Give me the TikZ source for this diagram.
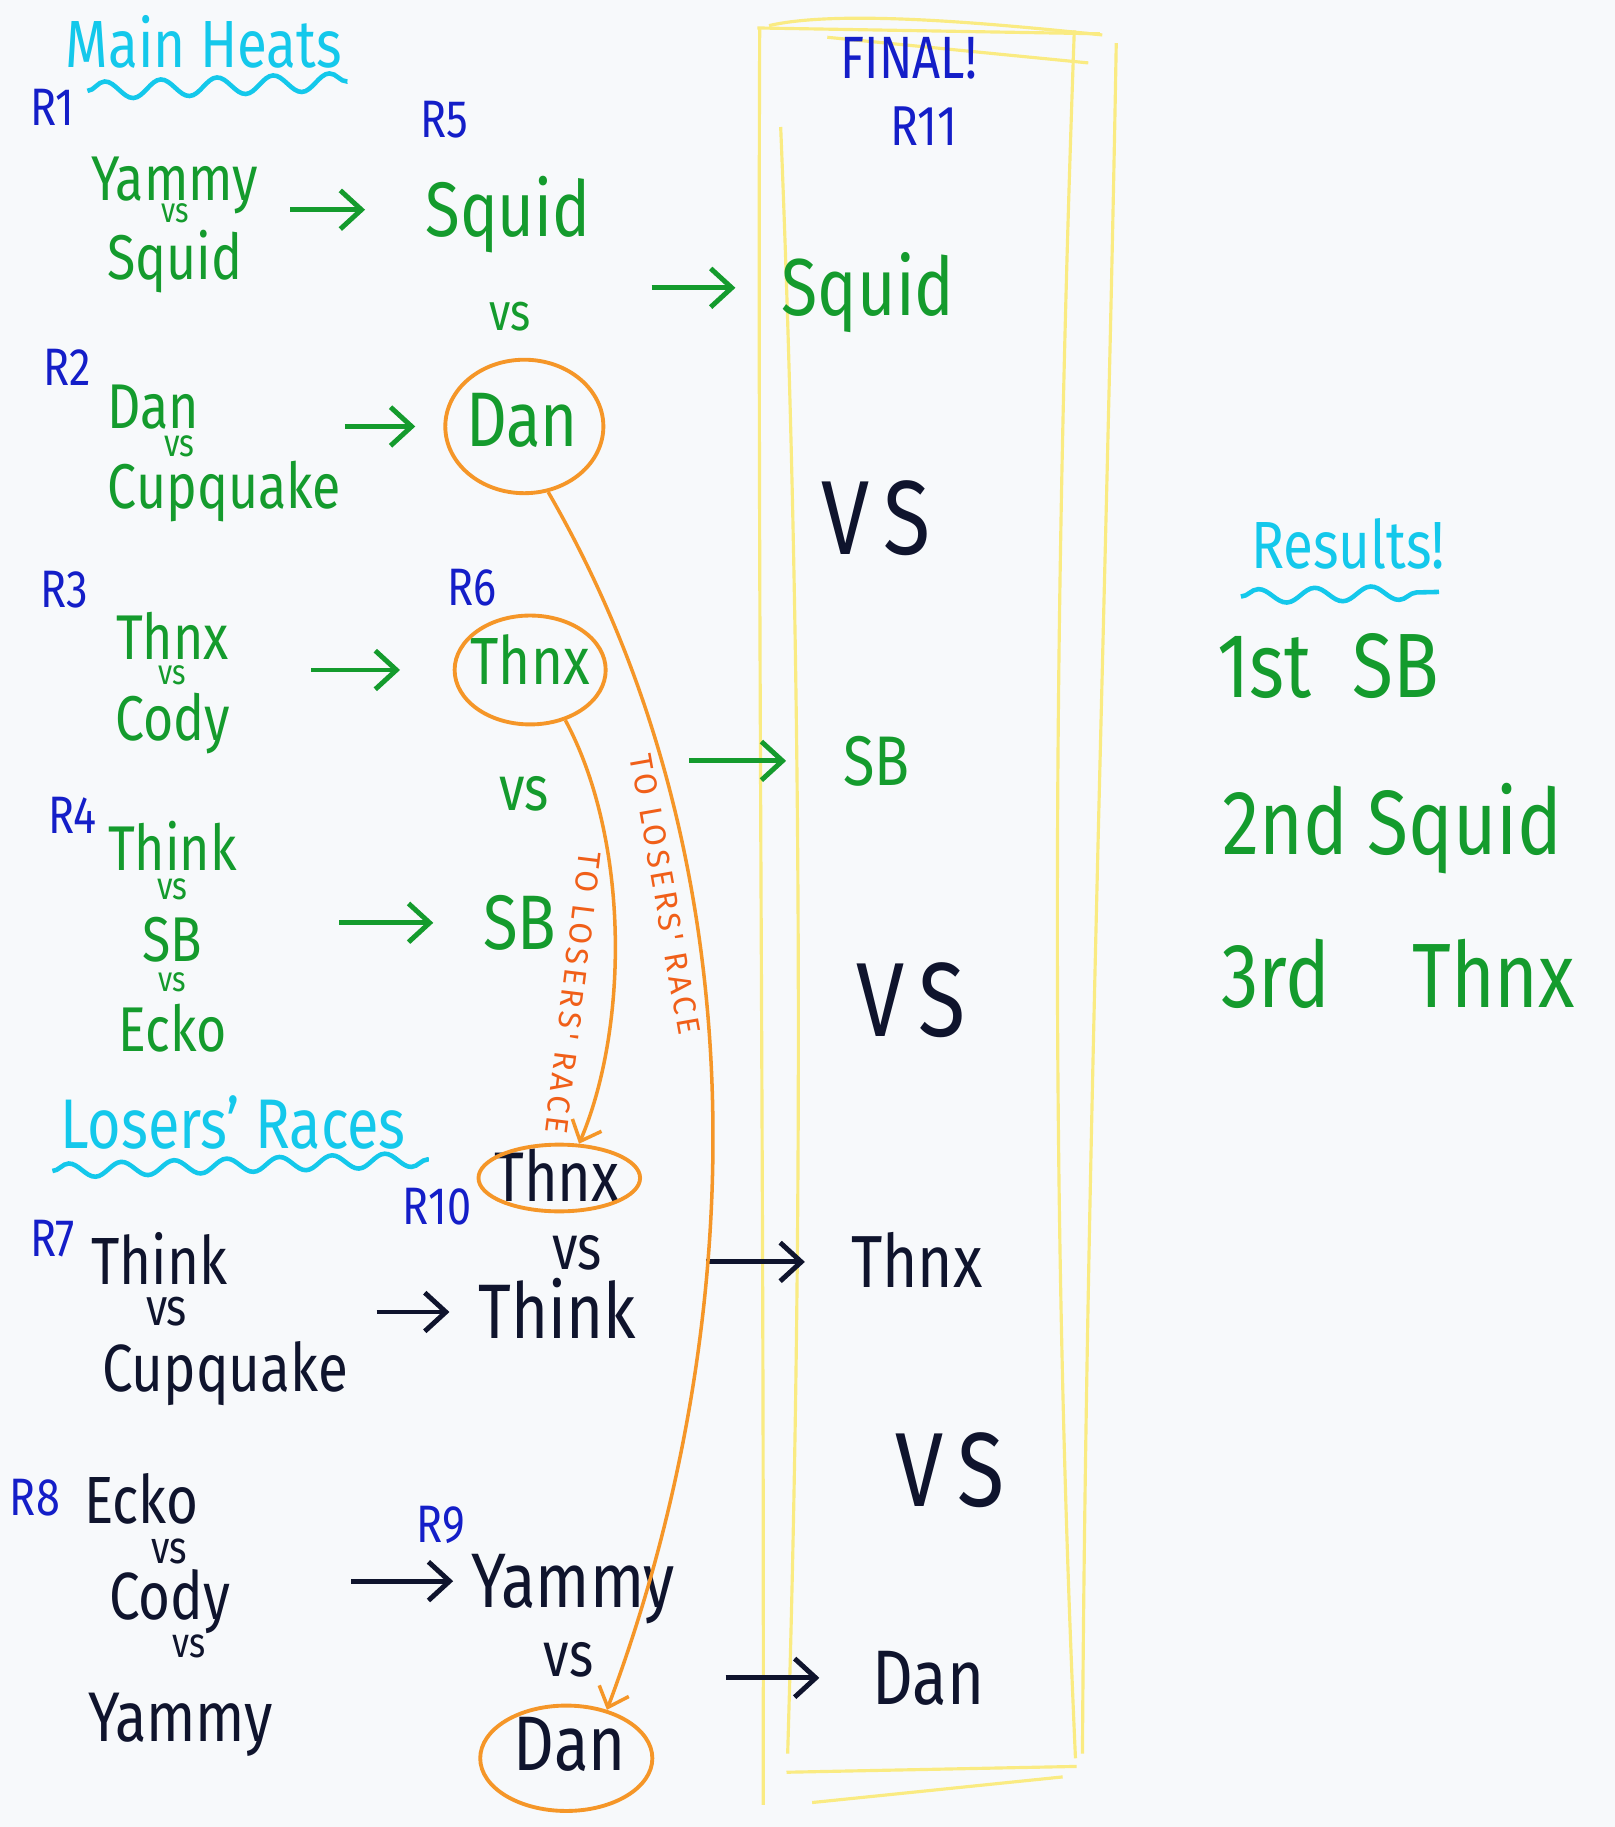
\documentclass[tikz,border=0pt]{standalone}
\usepackage{fontspec}
\setmainfont{Fira Sans}[FakeStretch=0.82]
\newfontfamily\labfont{Fira Sans}[LetterSpace=12]
\usetikzlibrary{positioning, arrows.meta, shapes.geometric, calc, fit, decorations.pathmorphing}
\usepackage{xcolor}
\definecolor{hgreen}{RGB}{20,155,45}
\definecolor{hblue}{RGB}{20,30,200}
\definecolor{hcyan}{RGB}{20,200,235}
\definecolor{horange}{RGB}{245,150,40}
\definecolor{hred}{RGB}{240,95,25}
\definecolor{ink}{RGB}{15,20,45}
\definecolor{hyellow}{RGB}{250,235,130}
\definecolor{paper}{RGB}{247,249,251}

% one size per line inside a heat block (lines then sit 1pt apart)
\newcommand{\hsz}[1]{\fontsize{#1}{1pt}\selectfont}

\tikzset{
  hand/.style={font=\fontsize{#1}{#1}\selectfont, inner sep=0pt, text height={0.69*#1pt}, text depth=0pt},
  heat/.style={font=\hsz{#1}, inner sep=0pt},
  rlab/.style={hand=15, text=hblue},
  head/.style={hand=19, text=hcyan},
  team/.style={hand=22, text=hgreen},
  bteam/.style={hand=22, text=ink},
  vsn/.style={hand=#1},
  bigvs/.style={hand=30, text=ink},
  res/.style={hand=26, text=hgreen},
  ring/.style={ellipse, draw=horange, line width=1.1pt, inner sep=0pt},
  grp/.style={inner sep=0pt},
  garw/.style={draw=hgreen, line width=1.4pt, -{Straight Barb[length=6pt, width=11pt]}},
  karw/.style={garw, draw=ink},
  oarw/.style={draw=horange, line width=1pt, -{Straight Barb[length=5pt, width=9pt]}},
  olab/.style={font=\labfont\fontsize{9}{9}\selectfont, text=hred, inner sep=0pt},
  wavy/.style={draw=hcyan, line width=1.3pt, decorate, decoration={snake, segment length=16pt, amplitude=2.5pt}},
  yline/.style={draw=hyellow, line width=0.9pt}
}

\begin{document}
\begin{tikzpicture}[x=0.011652cm, y=-0.011652cm]
  \path[use as bounding box, fill=paper] (0,0) rectangle (1386,1568);

  % final box
  \draw[yline] (652,24) .. controls (650,500) and (656,1000) .. (655,1549);
  \draw[yline] (670,109) .. controls (682,400) and (694,900) .. (676,1505);
  \draw[yline] (650,24) -- (944,29);
  \draw[yline] (660,22) .. controls (720,8) and (850,20) .. (946,30);
  \draw[yline] (710,32) -- (934,54);
  \draw[yline] (922,26) .. controls (905,500) and (900,1000) .. (923,1509);
  \draw[yline] (958,37) .. controls (950,500) and (932,1000) .. (929,1505);
  \draw[yline] (675,1521) -- (924,1516);
  \draw[yline] (697,1547) -- (912,1525);

  % main heats
  \node[head] (mainh) at (175,38) {Main Heats};
  \draw[wavy] (75,78) -- (298,70);

  \node[rlab] (r1l) at (45,92) {R1};
  \node[heat=18, text=hgreen, align=center, anchor=north] (r1) at (150,134)
    {Yammy\\[-3.8pt]{\hsz{10}vs}\\[1pt]Squid};

  \node[rlab] (r2l) at (58,315) {R2};
  \node[heat=18, text=hgreen, align=left, anchor=north west] (r2) at (92,330)
    {Dan\\[0.8pt]\hspace*{16pt}{\hsz{11}vs}\\Cupquake};

  \node[rlab] (r3l) at (55,506) {R3};
  \node[heat=18, text=hgreen, align=center, anchor=north] (r3) at (148,525)
    {Thnx\\[0.7pt]{\hsz{10}vs}\\[1.2pt]Cody};

  \node[rlab] (r4l) at (62,700) {R4};
  \node[heat=18, text=hgreen, align=center, anchor=north] (r4) at (148,704)
    {Think\\[1.5pt]{\hsz{11}vs}\\[3.8pt]SB\\[2pt]{\hsz{10}vs}\\[2.5pt]Ecko};

  % second round
  \node[rlab] (r5l) at (381,102) {R5};
  \node[team] (sq5) at (436,180) {Squid};
  \node[vsn=15, text=hgreen] (vs5) at (438,268) {vs};
  \node[team] (dan5) at (448,360) {Dan};
  \node[ring, minimum width=45pt, minimum height=38pt] (dan5c) at (450,366) {};

  \node[rlab] (r6l) at (405,504) {R6};
  \node[team, hand=19] (thnx6) at (455,568) {Thnx};
  \node[ring, minimum width=43pt, minimum height=31pt] (thnx6c) at (455,575) {};
  \node[vsn=18, text=hgreen] (vs6) at (450,677) {vs};
  \node[team] (sb6) at (446,792) {SB};

  % losers' races
  \node[head, hand=20] (loseh) at (200,965) {Losers' Races};
  \draw[wavy, decoration={segment length=15pt, amplitude=2pt}] (45,1005) -- (368,995);

  \node[rlab] (r7l) at (45,1063) {R7};
  \node[heat=19, text=ink, align=left, anchor=north west] (r7) at (78,1057)
    {Think\\[2.7pt]\hspace*{15.5pt}{\hsz{15}vs}\\[3.3pt]\hspace*{3pt}Cupquake};

  \node[rlab] (r8l) at (30,1285) {R8};
  \node[heat=19, text=ink, align=left, anchor=north west] (r8) at (72,1264)
    {Ecko\\[3pt]\hspace*{19pt}{\hsz{13}vs}\\[0.8pt]\hspace*{7pt}Cody\\[-0.8pt]\hspace*{25pt}{\hsz{12}vs}\\[9pt]\hspace*{1pt}{\hsz{20}Yammy}};

  \node[rlab] (r10l) at (375,1035) {R10};
  \node[bteam, hand=20] (thnx10) at (478,1010) {Thnx};
  \node[ring, minimum width=46pt, minimum height=19pt] (thnx10c) at (480,1011) {};
  \node[vsn=18, text=ink] (vs10) at (495,1071) {vs};
  \node[bteam] (think10) at (478,1126) {Think};

  \node[rlab] (r9l) at (378,1308) {R9};
  \node[bteam] (yammy9) at (492,1357) {Yammy};
  \node[vsn=18, text=ink] (vs9) at (488,1420) {vs};
  \node[bteam] (dan9) at (489,1497) {Dan};
  \node[ring, minimum width=49pt, minimum height=30pt] (dan9c) at (486,1509) {};

  % final
  \node[hand=17, text=hblue] (finl) at (780,50) {FINAL!};
  \node[rlab, hand=16] (r11l) at (793,108) {R11};
  \node[team, hand=23] (fsq) at (745,247) {Squid};
  \node[bigvs] (fvs1) at (752,445) {V\kern4pt S};
  \node[team, hand=20] (fsb) at (752,653) {SB};
  \node[bigvs] (fvs2) at (782,858) {V\kern4pt S};
  \node[bteam, hand=21] (fthnx) at (787,1083) {Thnx};
  \node[bigvs] (fvs3) at (815,1262) {V\kern4pt S};
  \node[bteam] (fdan) at (797,1440) {Dan};

  % results
  \node[head] (resh) at (1157,468) {Results!};
  \draw[wavy, decoration={segment length=16pt, amplitude=2pt}] (1065,512) -- (1235,508);
  \node[res] (first) at (1140,572) {1st\hspace{0.45em}SB};
  \node[res] (second) at (1195,706) {2nd Squid};
  \node[res] (third) at (1200,838) {3rd\hspace{0.9em}Thnx};

  % groups
  \node[grp, fit=(sq5)(vs5)(dan5c)] (r5) {};
  \node[grp, fit=(thnx6c)(vs6)(sb6)] (r6) {};
  \node[grp, fit=(yammy9)(vs9)(dan9c)] (r9) {};
  \node[grp, fit=(thnx10c)(vs10)(think10)] (r10) {};

  % winners move on
  \draw[garw, shorten <=9pt, shorten >=17pt] (r1.east |- sq5) -- (sq5);
  \draw[garw, shorten <=1pt, shorten >=8pt] (r2.east |- dan5c) -- (dan5c);
  \draw[garw, shorten <=23pt, shorten >=15pt] (r3.east |- thnx6c) -- (thnx6c);
  \draw[garw, shorten <=29pt, shorten >=14pt] (r4.east |- sb6) -- (sb6);
  \draw[garw, shorten <=13pt, shorten >=13pt] (r5.east |- fsq) -- (fsq);
  \draw[garw, shorten <=23pt, shorten >=16pt] (r6.east |- fsb) -- (fsb);
  \draw[karw, shorten <=8pt, shorten >=8pt] (r7.east |- think10) -- (think10);
  \draw[karw, shorten <=22pt, shorten >=5pt] (r8.east |- yammy9) -- (yammy9);
  \draw[karw, shorten <=18pt, shorten >=13pt] (r10.east |- fthnx) -- (fthnx);
  \draw[karw, shorten <=14pt, shorten >=15pt] (r9.east |- fdan) -- (fdan);

  % losers drop down
  \draw[oarw] (dan5c.-70) .. controls (660,750) and (640,1150) .. (dan9c.50);
  \draw[oarw] (thnx6c.-55) .. controls (540,720) and (540,880) .. (thnx10c.60);
  \node[olab, rotate=-80] (lab1) at (571,768) {TO LOSERS' RACE};
  \node[olab, rotate=-97] (lab2) at (492,852) {TO LOSERS' RACE};
\end{tikzpicture}
\end{document}
